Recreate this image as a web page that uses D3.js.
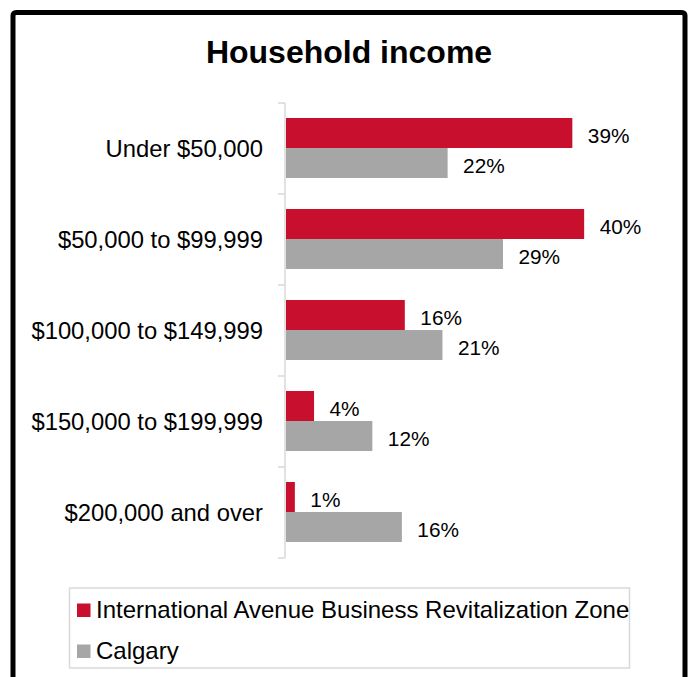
<!DOCTYPE html>
<html>
<head>
<meta charset="utf-8">
<script src="https://cdn.jsdelivr.net/npm/d3@7"></script>
<style>
  html, body { margin: 0; padding: 0; background: #fff; }
  svg { display: block; font-family: Arial, "Liberation Sans", sans-serif; }
</style>
</head>
<body>
<svg id="chart" width="692" height="677"></svg>
<script>
// data
const categories = ["Under $50,000", "$50,000 to $99,999", "$100,000 to $149,999", "$150,000 to $199,999", "$200,000 and over"];
const seriesNames = ["International Avenue Business Revitalization Zone", "Calgary"];
const zoneValues = [38.8, 40.4, 16.1, 3.8, 1.2];
const calgaryValues = [21.9, 29.4, 21.2, 11.7, 15.7];
const zoneLabels = ["39%", "40%", "16%", "4%", "1%"];
const calgaryLabels = ["22%", "29%", "21%", "12%", "16%"];
const colors = ["#C8102E", "#A6A6A6"];

const svg = d3.select("#chart");

// outer black frame (bottom edge sits below the window)
svg.append("rect")
    .attr("x", 13).attr("y", 12.5)
    .attr("width", 672).attr("height", 700)
    .attr("rx", 3)
    .attr("fill", "#fff")
    .attr("stroke", "#000")
    .attr("stroke-width", 5);

svg.append("text")
    .attr("x", 349).attr("y", 63)
    .attr("text-anchor", "middle")
    .attr("font-size", 32)
    .attr("font-weight", "bold")
    .text("Household income");

const x = d3.scaleLinear().domain([0, 50]).range([286, 655]);
const y = d3.scaleBand().domain(categories).range([103, 558]);
const ySub = d3.scaleBand().domain(seriesNames).range([15, 75]);

// build rows for each series from the arrays above
const rows = [];
categories.forEach((c, i) => {
    rows.push({ cat: c, series: seriesNames[0], value: zoneValues[i], label: zoneLabels[i], color: colors[0] });
    rows.push({ cat: c, series: seriesNames[1], value: calgaryValues[i], label: calgaryLabels[i], color: colors[1] });
});

svg.append("g").selectAll("rect")
    .data(rows)
    .join("rect")
    .attr("x", x(0))
    .attr("y", d => y(d.cat) + ySub(d.series))
    .attr("width", d => x(d.value) - x(0))
    .attr("height", ySub.bandwidth())
    .attr("fill", d => d.color);

svg.append("g").selectAll("text")
    .data(rows)
    .join("text")
    .attr("x", d => x(d.value) + 15.5)
    .attr("y", d => y(d.cat) + ySub(d.series) + ySub.bandwidth() / 2 + 9.5)
    .attr("font-size", 20.8)
    .attr("fill", "#000")
    .text(d => d.label);

// category axis with ticks at band boundaries
const axisG = svg.append("g");
axisG.append("line")
    .attr("x1", 285).attr("x2", 285)
    .attr("y1", y.range()[0]).attr("y2", y.range()[1])
    .attr("stroke", "#D9D9D9").attr("stroke-width", 1.5);
const bounds = categories.map(c => y(c)).concat([y.range()[1]]);
axisG.selectAll("line.tick")
    .data(bounds)
    .join("line")
    .attr("class", "tick")
    .attr("x1", 278).attr("x2", 285)
    .attr("y1", d => d).attr("y2", d => d)
    .attr("stroke", "#D9D9D9").attr("stroke-width", 1.5);
axisG.selectAll("text")
    .data(categories)
    .join("text")
    .attr("x", 263)
    .attr("y", d => y(d) + y.bandwidth() / 2 + 8.4)
    .attr("text-anchor", "end")
    .attr("font-size", 23.8)
    .text(d => d);

// legend
const legend = svg.append("g");
legend.append("rect")
    .attr("x", 69.5).attr("y", 588)
    .attr("width", 560).attr("height", 80)
    .attr("fill", "#fff")
    .attr("stroke", "#D9D9D9").attr("stroke-width", 1.5);
const items = legend.selectAll("g.item")
    .data(seriesNames)
    .join("g")
    .attr("class", "item")
    .attr("transform", (d, i) => `translate(0,${i * 41})`);
items.append("rect")
    .attr("x", 77).attr("y", 603.5)
    .attr("width", 13.5).attr("height", 13.5)
    .attr("fill", (d, i) => colors[i]);
items.append("text")
    .attr("x", 96).attr("y", 617.5)
    .attr("font-size", 24)
    .text(d => d);
</script>
</body>
</html>
